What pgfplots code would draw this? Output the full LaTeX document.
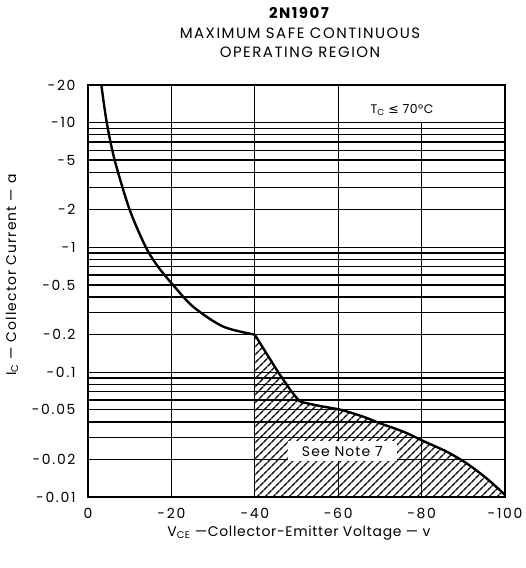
\documentclass[border=0pt]{standalone}
\usepackage{fontspec}
\setmainfont{Poppins}
\newfontfamily\symfont{DejaVu Sans}
\usepackage{pgfplots}
\pgfplotsset{compat=1.18}
\usetikzlibrary{patterns.meta}
\begin{document}
\begin{tikzpicture}
\path[use as bounding box] (-88bp,-71bp) rectangle (438bp,497bp);
\begin{axis}[at={(0,0)}, anchor=south west, scale only axis,
  width=417bp, height=412bp,
  xmin=-100, xmax=0, x dir=reverse,
  ymode=log, ymin=0.01, ymax=20,
  xtick={0,-20,-40,-60,-80,-100},
  xticklabels={0,-20,-40,-60,-80,-100},
  ytick={0.01,0.02,0.03,0.04,0.05,0.06,0.07,0.08,0.09,0.1,0.2,0.3,0.4,0.5,0.6,0.7,0.8,0.9,1,2,3,4,5,6,7,8,9,10,20},
  yticklabels={-0.01,-0.02,{},{},-0.05,{},{},{},{},-0.1,-0.2,{},{},-0.5,{},{},{},{},-1,-2,{},{},-5,{},{},{},{},-10,-20},
  ymajorgrids, major grid style={black, line width=1.3bp},
  major tick length=0pt, minor tick length=0pt,
  axis line style={line width=2bp},
  tick label style={font=\fontsize{14}{16}\selectfont\addfontfeatures{LetterSpace=12}},
  yticklabel style={xshift=-9bp},
  xticklabel style={yshift=-8bp},
  clip=false,
]
\draw[line width=1.3bp] (axis cs:-20,0.01) -- (axis cs:-20,20);
\draw[line width=1.3bp] (axis cs:-40,0.01) -- (axis cs:-40,20);
\draw[line width=1.3bp] (axis cs:-60,0.01) -- (axis cs:-60,20);
\draw[line width=1.3bp] (axis cs:-80,0.01) -- (axis cs:-80,10);
\addplot[draw=none, pattern={Lines[angle=45,distance=6bp,line width=1.5bp]}] coordinates {
  (-40,0.01) (-40,0.2) (-45.6,0.1) (-48.8,0.07) (-50.8,0.058) (-55.6,0.0536)
  (-60.8,0.0498) (-66,0.044) (-70,0.039) (-75.6,0.0334) (-80.8,0.0277)
  (-86,0.0231) (-90.8,0.0186) (-95.6,0.0141) (-100,0.01)
} -- cycle;
\addplot[black, line width=2.4bp, smooth] coordinates {
  (-3.2,20) (-4.5,10) (-6.4,5) (-10.0,2) (-13.9,1) (-16.8,0.7)
  (-20.4,0.5) (-25.2,0.335) (-32.4,0.232) (-40,0.2)
};
\addplot[black, line width=2.4bp] coordinates {
  (-40,0.2) (-45.6,0.1) (-48.8,0.07) (-50.8,0.058)
};
\addplot[black, line width=2.4bp, smooth] coordinates {
  (-50.8,0.058) (-55.6,0.0536) (-60.8,0.0498) (-66,0.044) (-70,0.039)
  (-75.6,0.0334) (-80.8,0.0277) (-86,0.0231) (-90.8,0.0186) (-95.6,0.0141) (-100,0.0104)
};
\node[fill=white, inner xsep=14bp, inner ysep=5bp, font=\fontsize{14}{16}\selectfont\addfontfeatures{LetterSpace=8}] at (axis cs:-61,0.0233) {See Note 7};
\node[font=\fontsize{12.5}{14}\selectfont\addfontfeatures{LetterSpace=4}] at (axis cs:-75.3,12.6) {T\textsubscript{C} {\symfont ≤} 70°C};
\end{axis}
\node[font=\bfseries\fontsize{15}{17}\selectfont\addfontfeatures{LetterSpace=10}] at (211bp,484bp) {2N1907};
\node[font=\fontsize{15}{17}\selectfont\addfontfeatures{LetterSpace=10}] at (212bp,464bp) {MAXIMUM SAFE CONTINUOUS};
\node[font=\fontsize{15}{17}\selectfont\addfontfeatures{LetterSpace=10}] at (212bp,445bp) {OPERATING REGION};
\node[rotate=90, font=\fontsize{14}{16}\selectfont\addfontfeatures{LetterSpace=8}] at (-76bp,222bp) {I\textsubscript{C} — Collector Current — a};
\node[font=\fontsize{14}{16}\selectfont\addfontfeatures{LetterSpace=5}] at (211bp,-36bp) {V\textsubscript{CE} —Collector-Emitter Voltage — v};
\end{tikzpicture}
\end{document}
